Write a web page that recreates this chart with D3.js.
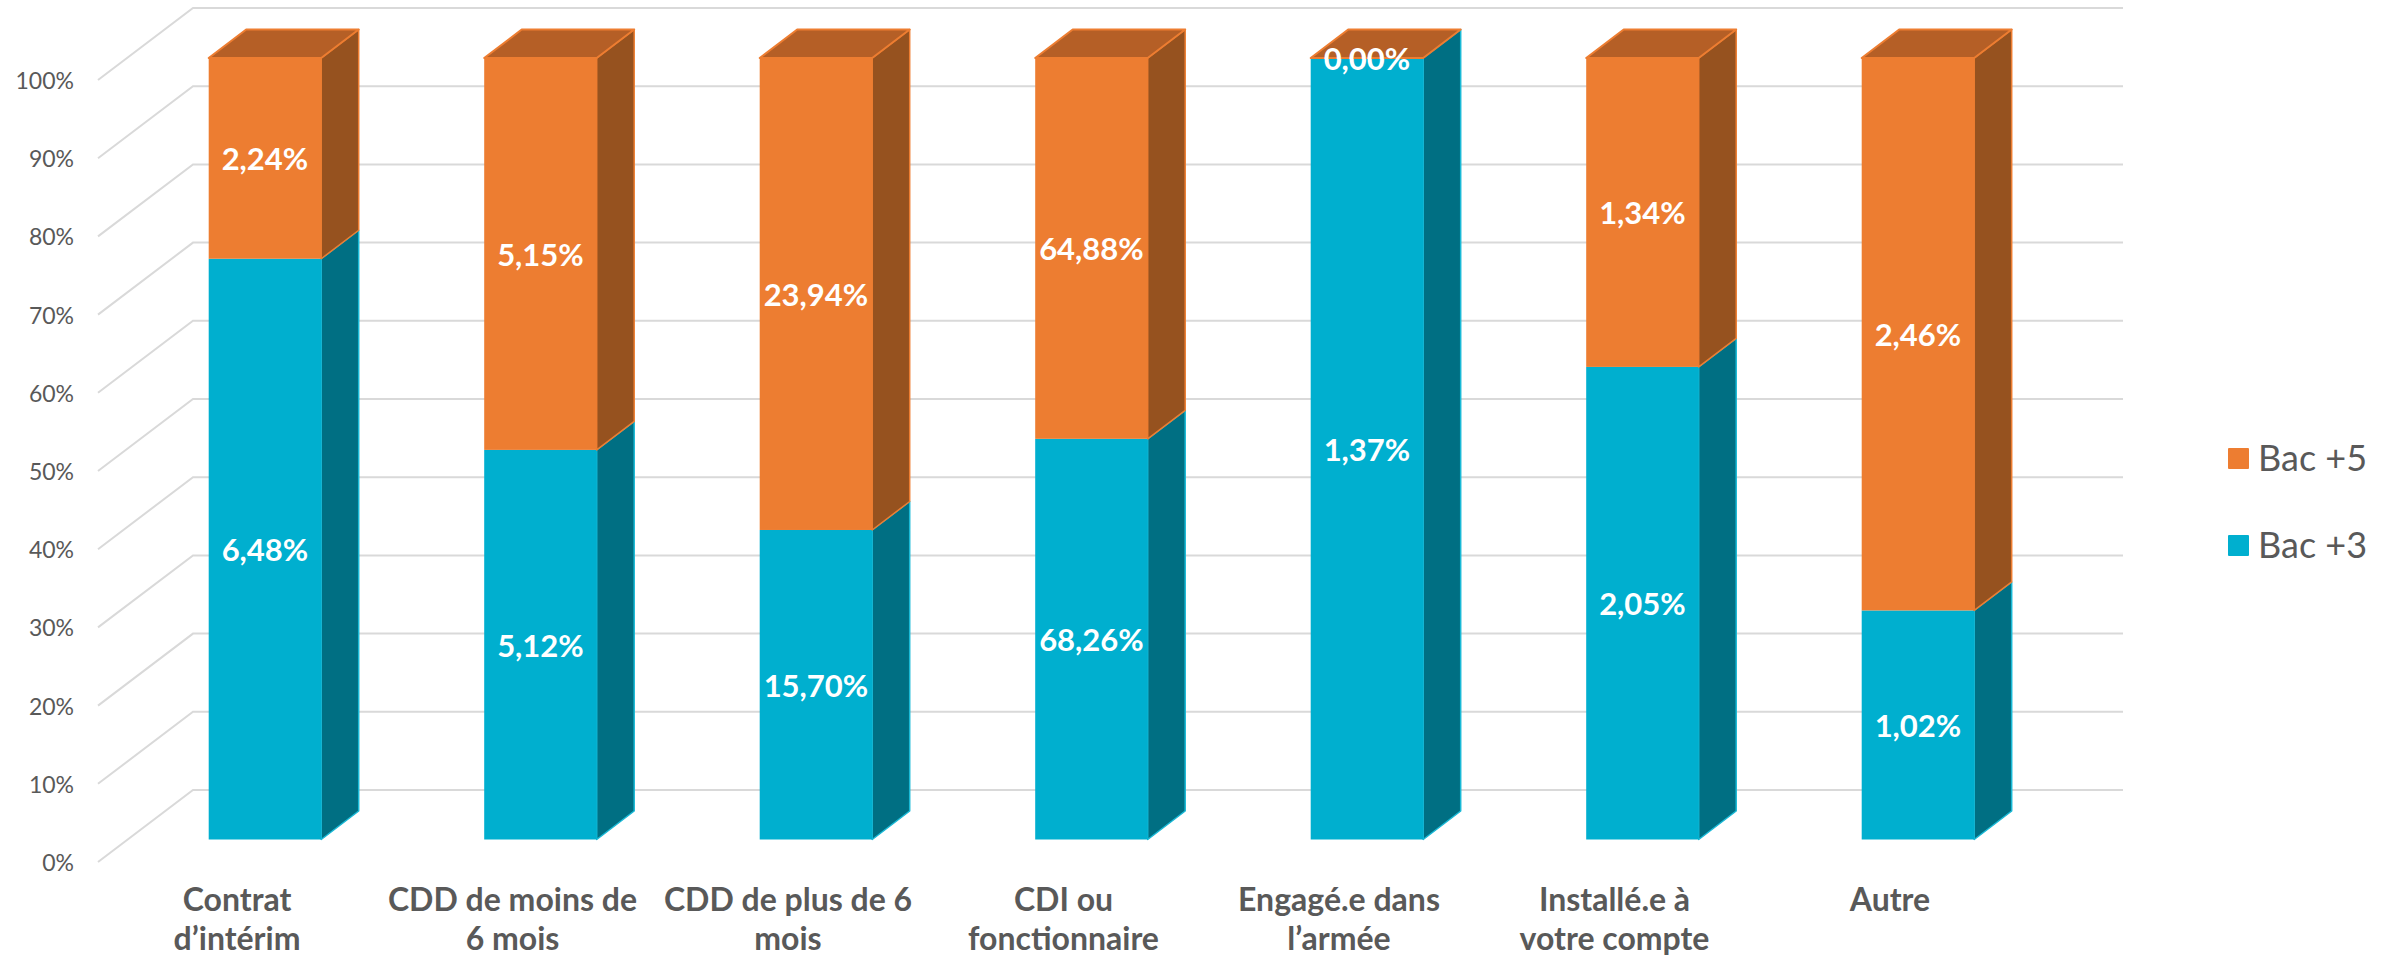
<!DOCTYPE html>
<html><head><meta charset="utf-8">
<script src="https://cdn.jsdelivr.net/npm/d3@7/dist/d3.min.js"></script>
<style>html,body{margin:0;padding:0;background:#fff}svg{display:block}</style></head>
<body><svg id="c" width="2382" height="957"></svg>
<script>
const categories = [["Contrat","d’intérim"],["CDD de moins de","6 mois"],["CDD de plus de 6","mois"],["CDI ou","fonctionnaire"],["Engagé.e dans","l’armée"],["Installé.e à","votre compte"],["Autre"]];
const bac3 = [6.48,5.12,15.70,68.26,1.37,2.05,1.02];
const bac5 = [2.24,5.15,23.94,64.88,0,1.34,2.46];
const seriesNames = ["Bac +3","Bac +5"];
const ticks = [0,.1,.2,.3,.4,.5,.6,.7,.8,.9,1];
const colors = {front:["#00AFCF","#ED7D31"],side:["#006F83","#96521F"],edge:["#19B9D6","#ED7D31"],top:"#B55F26"};
const FONT = "Lato,sans-serif";

const svg = d3.select("#c");
const rows = categories.map((c,i)=>({i,"Bac +3":bac3[i],"Bac +5":bac5[i]}));
const stacked = d3.stack().keys(seriesNames).offset(d3.stackOffsetExpand)(rows);

const barX = i => 208.7 + 275.5*i;
const barW = 112.5, dx = 37.5, dy = 28.5;
const yFront = d3.scaleLinear().domain([0,1]).range([839.5,58]);
const yWall = d3.scaleLinear().domain([0,1]).range([790,8]);
const yLabel = d3.scaleLinear().domain([0,1]).range([862,80]);

// grid
const g = svg.append("g").attr("fill","none").attr("stroke","#d9d9d9").attr("stroke-width",2);
ticks.forEach(t=>{
  g.append("path").attr("d",`M98,${yLabel(t)}L193,${yWall(t)}H2123`);
});
// tick labels
svg.append("g").selectAll("text").data(ticks).join("text")
  .attr("x",74).attr("y",t=>yLabel(t)+9).attr("text-anchor","end")
  .attr("font-family",FONT).attr("font-size",23).attr("fill","#595959")
  .text(t=>d3.format(".0%")(t));

// bars
const gb = svg.append("g");
const fmt = v=>v.toFixed(2).replace(".",",")+"%";
stacked.forEach((s,k)=>{
  s.forEach((d,i)=>{
    const x0=barX(i), x1=x0+barW, yb=yFront(d[0]), yt=yFront(d[1]);
    if(yb-yt>0.01){
      gb.append("path").attr("d",`M${x1},${yb}L${x1+dx},${yb-dy}V${yt-dy}L${x1},${yt}Z`)
        .attr("fill",colors.side[k]).attr("stroke",colors.edge[k]).attr("stroke-width",1.5).attr("stroke-linejoin","round");
      gb.append("rect").attr("x",x0).attr("y",yt).attr("width",barW).attr("height",yb-yt)
        .attr("fill",colors.front[k]);
    }
  });
});
// tops (series Bac +5 cap)
stacked[1].forEach((d,i)=>{
  const x0=barX(i), x1=x0+barW, yt=yFront(d[1]);
  gb.append("path").attr("d",`M${x0},${yt}L${x0+dx},${yt-dy}H${x1+dx}L${x1},${yt}Z`)
    .attr("fill",colors.top).attr("stroke",colors.edge[1]).attr("stroke-width",2).attr("stroke-linejoin","round");
});
// data labels
stacked.forEach((s,k)=>{
  s.forEach((d,i)=>{
    const val = (k===0?bac3:bac5)[i];
    svg.append("text").attr("x",barX(i)+barW/2).attr("y",(yFront(d[0])+yFront(d[1]))/2+12)
      .attr("text-anchor","middle").attr("font-family",FONT).attr("font-weight",700)
      .attr("font-size",31).attr("fill","#fff").text(fmt(val));
  });
});
// category labels
categories.forEach((c,i)=>{
  c.forEach((line,j)=>{
    svg.append("text").attr("x",237+275.5*i).attr("y",911+j*38.5).attr("text-anchor","middle")
      .attr("font-family",FONT).attr("font-weight",700).attr("font-size",32).attr("fill","#595959").text(line);
  });
});
// legend
[["Bac +5",1,448],["Bac +3",0,535]].forEach(([n,k,y])=>{
  svg.append("rect").attr("x",2228).attr("y",y).attr("width",21).attr("height",21).attr("rx",1).attr("fill",colors.front[k]);
  svg.append("text").attr("x",2258).attr("y",y+23).attr("font-family",FONT).attr("font-size",36).attr("fill","#595959").text(n);
});
</script></body></html>
